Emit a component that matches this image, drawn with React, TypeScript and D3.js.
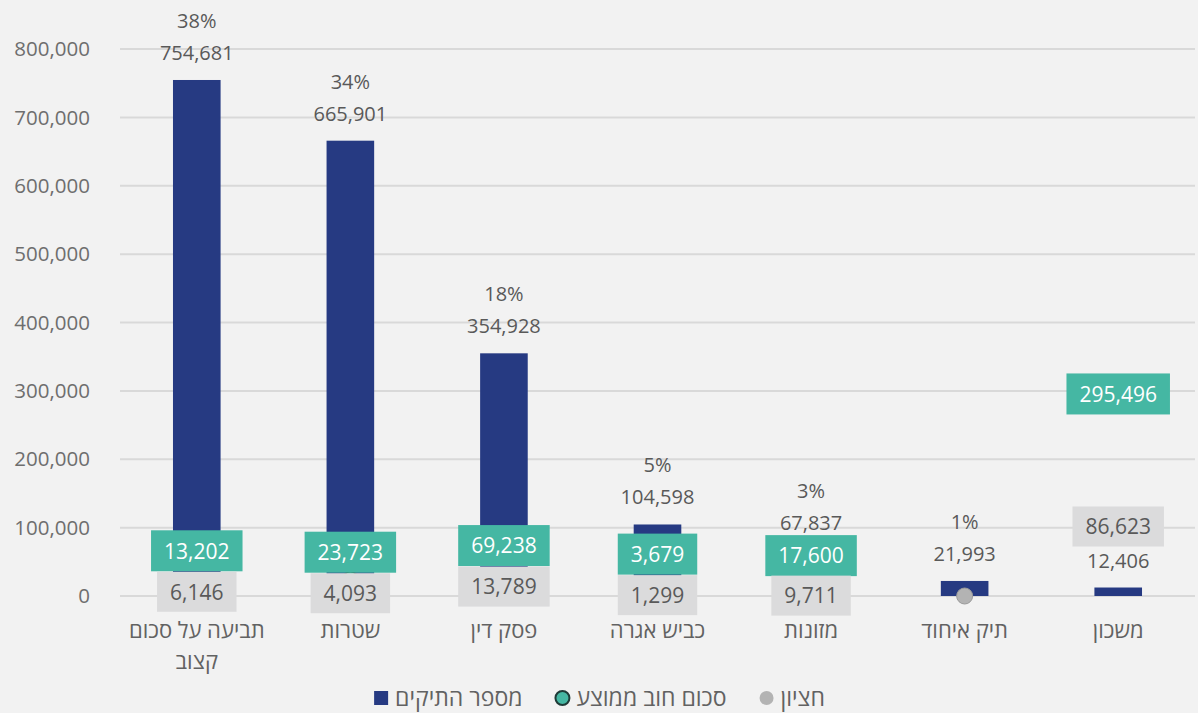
import * as d3 from "d3";
import { useRef, useEffect } from "react";

// data
const categories = [
  "תביעה על סכום קצוב",
  "שטרות",
  "פסק דין",
  "כביש אגרה",
  "מזונות",
  "תיק איחוד",
  "משכון",
];
const caseCounts = [754681, 665901, 354928, 104598, 67837, 21993, 12406];
const percentLabels = ["38%", "34%", "18%", "5%", "3%", "1%", null];
const avgDebt = [13202, 23723, 69238, 3679, 17600, null, 295496];
const medianDebt = [6146, 4093, 13789, 1299, 9711, 0, 86623];
const medianLabelShown = [true, true, true, true, true, false, true];
const yTicks = [0, 100000, 200000, 300000, 400000, 500000, 600000, 700000, 800000];
const legendLabels = ["מספר התיקים", "סכום חוב ממוצע", "חציון"];

const FONT = "'Open Sans', 'DejaVu Sans', sans-serif";
const NAVY = "#263a82";
const GREEN = "#45b7a3";
const GREYBOX = "#dbdbdc";
const GREYDOT = "#b3b3b3";

const App = () => {
  const container = useRef(null);

  useEffect(() => {
    createChart();
  });

  const createChart = () => {
    let node = container.current;
    let W = 1198;
    let H = 713;
    let margins = { t: 49, b: 117, l: 120, r: 3 };

    let svg = d3
      .select(node)
      .selectAll("svg")
      .data([0])
      .join("svg")
      .attr("width", W)
      .attr("height", H)
      .style("display", "block")
      .style("font-family", FONT);

    svg.selectAll("*").remove();

    svg.append("rect").attr("width", W).attr("height", H).attr("fill", "#f2f2f2");

    let xScale = d3
      .scaleBand()
      .domain(categories)
      .range([margins.l, W - margins.r]);
    let yScale = d3
      .scaleLinear()
      .domain([0, 800000])
      .range([H - margins.b, margins.t]);

    let barW = xScale.bandwidth() * 0.31;
    let cx = (i) => xScale(categories[i]) + xScale.bandwidth() / 2;

    // grid
    svg
      .append("g")
      .selectAll("line")
      .data(yTicks)
      .join("line")
      .attr("x1", margins.l)
      .attr("x2", W - margins.r)
      .attr("y1", (d) => yScale(d))
      .attr("y2", (d) => yScale(d))
      .attr("stroke", "#d9d9d9")
      .attr("stroke-width", 2);

    // y labels
    svg
      .append("g")
      .selectAll("text")
      .data(yTicks)
      .join("text")
      .attr("x", 90)
      .attr("y", (d) => yScale(d))
      .attr("dy", "0.35em")
      .attr("text-anchor", "end")
      .attr("font-size", 20.5)
      .attr("fill", "#6e6e6e")
      .text((d) => d3.format(",")(d));

    // bars
    svg
      .append("g")
      .selectAll("rect")
      .data(caseCounts)
      .join("rect")
      .attr("x", (d, i) => cx(i) - barW / 2)
      .attr("width", barW)
      .attr("y", (d) => yScale(d))
      .attr("height", (d) => yScale(0) - yScale(d))
      .attr("fill", NAVY);

    // markers (mostly hidden under the label boxes)
    let markg = svg.append("g");
    avgDebt.forEach((v, i) => {
      if (v == null) return;
      markg
        .append("circle")
        .attr("cx", cx(i))
        .attr("cy", yScale(v))
        .attr("r", 8)
        .attr("fill", GREEN)
        .attr("stroke", "#1f3b38")
        .attr("stroke-width", 1.5);
    });
    medianDebt.forEach((v, i) => {
      if (v == null) return;
      markg
        .append("circle")
        .attr("cx", cx(i))
        .attr("cy", yScale(v))
        .attr("r", 8)
        .attr("fill", GREYDOT)
        .attr("stroke", "#9a9a9a")
        .attr("stroke-width", 1);
    });

    // count + percent labels
    let labelg = svg.append("g").attr("font-size", 20).attr("fill", "#595959");
    let countCenter = caseCounts.map((d) => yScale(d) - 27);
    caseCounts.forEach((d, i) => {
      labelg
        .append("text")
        .attr("x", cx(i))
        .attr("y", countCenter[i])
        .attr("dy", "0.35em")
        .attr("text-anchor", "middle")
        .text(d3.format(",")(d));
      if (percentLabels[i]) {
        labelg
          .append("text")
          .attr("x", cx(i))
          .attr("y", yScale(d) - 59)
          .attr("dy", "0.35em")
          .attr("text-anchor", "middle")
          .text(percentLabels[i]);
      }
    });

    // boxed labels, nudged only when they would collide
    let greyCenter = medianDebt.map((v, i) => {
      let y = yScale(v);
      return Math.abs(y - countCenter[i]) < 34 ? countCenter[i] - 34 : y;
    });
    let greenCenter = avgDebt.map((v, i) => {
      if (v == null) return null;
      let y = yScale(v);
      if (Math.abs(y - greyCenter[i]) < 41) {
        y = greyCenter[i] - 41;
        // keep below the count label, push the grey box down instead
        if (y < countCenter[i] + 33 && y > countCenter[i] - 33) {
          y = countCenter[i] + 33;
          greyCenter[i] = Math.max(greyCenter[i], y + 40);
        }
      }
      return y;
    });

    let boxLabel = (g, x, y, txt, fill, color, h) => {
      let t = g
        .append("text")
        .attr("x", x)
        .attr("y", y)
        .attr("dy", "0.37em")
        .attr("text-anchor", "middle")
        .attr("font-size", 21)
        .attr("fill", color)
        .text(txt);
      let w = t.node().getComputedTextLength() + 26;
      g.insert("rect", "text")
        .attr("x", x - w / 2)
        .attr("y", y - h / 2)
        .attr("width", w)
        .attr("height", h)
        .attr("fill", fill);
    };

    avgDebt.forEach((v, i) => {
      if (v == null) return;
      let g = svg.append("g");
      boxLabel(g, cx(i), greenCenter[i], d3.format(",")(v), GREEN, "#ffffff", 41);
    });
    medianDebt.forEach((v, i) => {
      if (!medianLabelShown[i]) return;
      let g = svg.append("g");
      boxLabel(g, cx(i), greyCenter[i], d3.format(",")(v), GREYBOX, "#595959", 40);
    });

    // x labels with wrapping
    let xg = svg.append("g").attr("font-size", 22).attr("fill", "#626262");
    categories.forEach((c, i) => {
      let t = xg
        .append("text")
        .attr("x", cx(i))
        .attr("y", yScale(0) + 34)
        .attr("text-anchor", "middle");
      let words = c.split(" ");
      let lines = [];
      let cur = [];
      words.forEach((w) => {
        t.text([...cur, w].join(" "));
        if (cur.length && t.node().getComputedTextLength() > xScale.bandwidth() - 6) {
          lines.push(cur.join(" "));
          cur = [w];
        } else {
          cur.push(w);
        }
      });
      lines.push(cur.join(" "));
      t.text(null);
      lines.forEach((l, li) => {
        t.append("tspan")
          .attr("x", cx(i))
          .attr("dy", li === 0 ? "0.35em" : "1.42em")
          .text(l);
      });
    });

    // legend
    let legendg = svg.append("g").attr("font-size", 23).attr("fill", "#626262");
    let ly = 698;
    let items = legendLabels.map((l) => {
      let t = legendg.append("text").attr("y", ly).attr("dy", "0.35em").text(l);
      return { t, w: t.node().getComputedTextLength() };
    });
    let markerW = 16;
    let gapMT = 6;
    let gapItems = 32;
    let total =
      items.reduce((s, d) => s + d.w + markerW + gapMT, 0) + gapItems * (items.length - 1);
    let x0 = W / 2 - total / 2;
    items.forEach((d, i) => {
      if (i === 0) {
        legendg
          .append("rect")
          .attr("x", x0 + 1)
          .attr("y", ly - 7)
          .attr("width", 14)
          .attr("height", 14)
          .attr("fill", NAVY);
      } else {
        legendg
          .append("circle")
          .attr("cx", x0 + 8)
          .attr("cy", ly)
          .attr("r", 7)
          .attr("fill", i === 1 ? GREEN : GREYDOT)
          .attr("stroke", i === 1 ? "#1f3b38" : "none")
          .attr("stroke-width", 2);
      }
      d.t.attr("x", x0 + markerW + gapMT);
      x0 += markerW + gapMT + d.w + gapItems;
    });
  };

  return (
    <div
      style={{ position: "absolute", left: 0, top: 0, width: 1198, height: 713 }}
      ref={container}
    ></div>
  );
};

export default App;
